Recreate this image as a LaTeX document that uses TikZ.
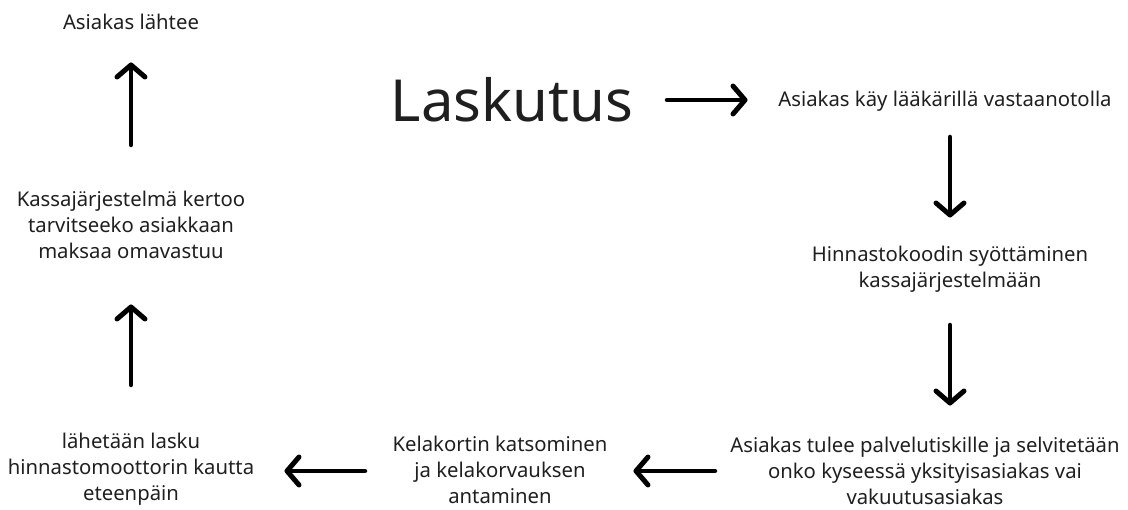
\documentclass[tikz,border=0pt]{standalone}
\usepackage{fontspec}
\setmainfont{Noto Sans}
\usetikzlibrary{decorations.markings}
\begin{document}
\begin{tikzpicture}[x=1pt,y=-1pt,
  lbl/.style={align=center,font=\fontsize{20.3}{26}\selectfont,inner sep=0pt,text=black!88},
  flow/.style={line width=4.5pt,line cap=round,
    postaction={decorate,decoration={markings,mark=at position 1 with {
      \draw[line width=5pt,line cap=round,line join=round] (-12pt,14pt) -- (0pt,0pt) -- (-12pt,-14pt);}}}}]
\useasboundingbox (0,0) rectangle (1128,510);
\node[lbl] (leave) at (131,22) {Asiakas lähtee};
\node[lbl] (kassa) at (131,225) {Kassajärjestelmä kertoo\\tarvitseeko asiakkaan\\maksaa omavastuu};
\node[lbl] (lasku) at (131,469) {lähetään lasku\\hinnastomoottorin kautta\\eteenpäin};
\node[lbl] (kela) at (500,470) {Kelakortin katsominen\\ja kelakorvauksen\\antaminen};
\node[lbl] (tiski) at (925,471) {Asiakas tulee palvelutiskille ja selvitetään\\onko kyseessä yksityisasiakas vai\\vakuutusasiakas};
\node[lbl] (koodi) at (950,269) {Hinnastokoodin syöttäminen\\kassajärjestelmään};
\node[lbl] (laak) at (945,101) {Asiakas käy lääkärillä vastaanotolla};
\node[lbl,font=\fontsize{58}{58}\selectfont] (title) at (512,100) {Laskutus};
\coordinate (a1s) at (667,100); \coordinate (a1e) at (745,100);
\coordinate (a2s) at (950,137); \coordinate (a2e) at (950,215);
\coordinate (a3s) at (950,325); \coordinate (a3e) at (950,403);
\coordinate (a4s) at (715,471); \coordinate (a4e) at (636,471);
\coordinate (a5s) at (365,471); \coordinate (a5e) at (287,471);
\coordinate (a6s) at (131,385); \coordinate (a6e) at (131,307);
\coordinate (a7s) at (131,145); \coordinate (a7e) at (131,65);
\foreach \s/\e in {a1s/a1e,a2s/a2e,a3s/a3e,a4s/a4e,a5s/a5e,a6s/a6e,a7s/a7e}
  \draw[flow] (\s) -- (\e);
\end{tikzpicture}
\end{document}
